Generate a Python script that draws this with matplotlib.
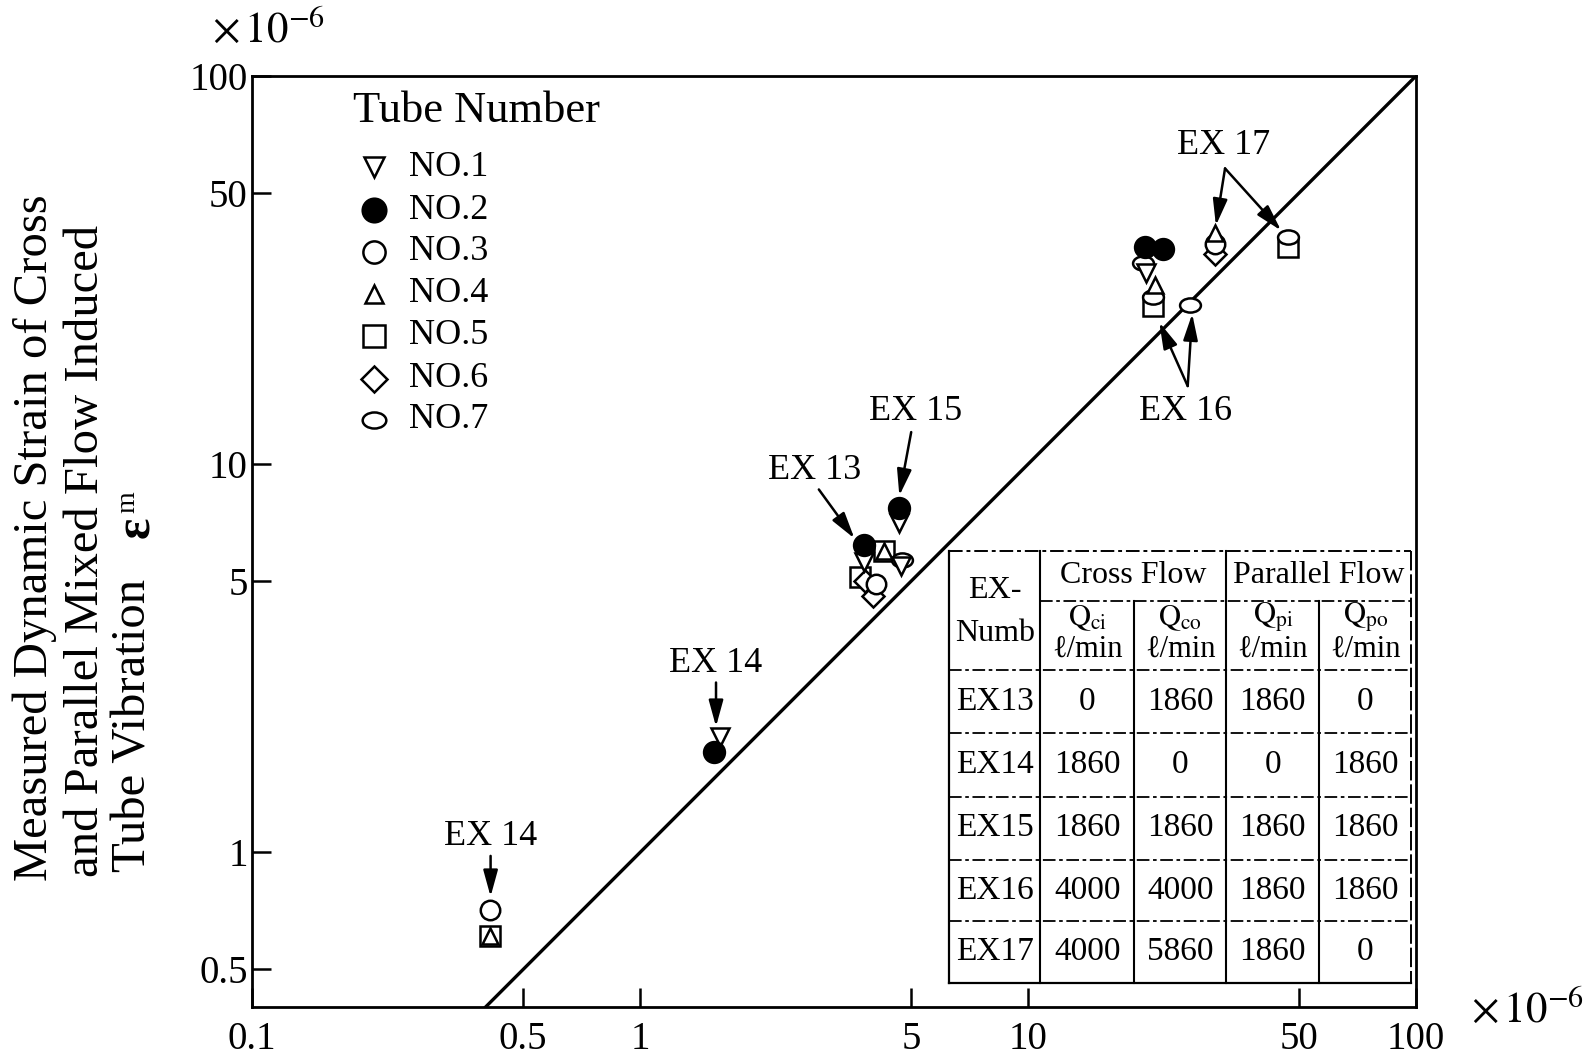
import matplotlib.pyplot as plt
from matplotlib.path import Path
from matplotlib.ticker import NullLocator

plt.rcParams['font.family'] = ['Liberation Serif', 'DejaVu Serif']
plt.rcParams['mathtext.fontset'] = 'stix'

# calculated strain (x) vs measured strain (y), both x 1e-6
tube_names = ['NO.1', 'NO.2', 'NO.3', 'NO.4', 'NO.5', 'NO.6', 'NO.7']
tube1_x = [1.61, 3.77, 4.65, 4.70, 20.2]
tube1_y = [1.98, 5.61, 7.05, 5.47, 31.0]
tube2_x = [1.55, 3.77, 4.65, 20.0, 22.3]
tube2_y = [1.82, 6.18, 7.72, 36.3, 35.9]
tube3_x = [0.41, 4.05, 30.3]
tube3_y = [0.71, 4.91, 37.0]
tube4_x = [0.41, 4.25, 21.2, 30.3]
tube4_y = [0.61, 5.96, 28.9, 39.3]
tube5_x = [0.41, 3.70, 4.25, 21.0, 46.8]
tube5_y = [0.61, 5.12, 5.96, 25.6, 36.3]
tube6_x = [3.81, 3.98, 30.3]
tube6_y = [5.00, 4.59, 34.8]
tube7_x = [4.73, 19.8, 21.0, 26.2, 46.8]
tube7_y = [5.68, 33.0, 27.0, 25.7, 38.5]

ideal = [0.4, 100]

xticks = [0.1, 0.5, 1, 5, 10, 50, 100]
xtick_labels = ['0.1', '0.5', '1', '5', '10', '50', '100']
yticks = [0.5, 1, 5, 10, 50, 100]
ytick_labels = ['0.5', '1', '5', '10', '50', '100']

# experiment labels: text position, arrow tail, arrow tips
ex_labels = ['EX 14', 'EX 14', 'EX 13', 'EX 15', 'EX 16', 'EX 17']
ex_text = [(0.412, 1.10), (1.57, 3.07), (2.82, 9.64), (5.12, 13.7), (25.5, 13.7), (32.0, 66.4)]
ex_tail = [(0.412, 0.98), (1.57, 2.74), (2.89, 8.61), (5.0, 12.1), (25.8, 15.9), (32.2, 57.8)]
ex_tips = [[(0.412, 0.77)], [(1.57, 2.11)], [(3.57, 6.44)], [(4.66, 8.30)],
           [(21.8, 23.2), (26.5, 24.4)], [(30.5, 41.2), (44.9, 40.0)]]

table_rows = [
    ['EX13', '0', '1860', '1860', '0'],
    ['EX14', '1860', '0', '0', '1860'],
    ['EX15', '1860', '1860', '1860', '1860'],
    ['EX16', '4000', '4000', '1860', '1860'],
    ['EX17', '4000', '5860', '1860', '0'],
]
q_labels = [r'$\mathrm{Q}_{\mathrm{ci}}$', r'$\mathrm{Q}_{\mathrm{co}}$',
            r'$\mathrm{Q}_{\mathrm{pi}}$', r'$\mathrm{Q}_{\mathrm{po}}$']

ellipse = Path(Path.unit_circle().vertices * [1.0, 0.68], Path.unit_circle().codes)

styles = {
    'NO.1': dict(marker='v', ms=13, mfc='white'),
    'NO.2': dict(marker='o', ms=15, mfc='black'),
    'NO.3': dict(marker='o', ms=14, mfc='white'),
    'NO.4': dict(marker='^', ms=11, mfc='white'),
    'NO.5': dict(marker='s', ms=14, mfc='white'),
    'NO.6': dict(marker='D', ms=11, mfc='white'),
    'NO.7': dict(marker=ellipse, ms=15, mfc='white'),
}
data = {
    'NO.1': (tube1_x, tube1_y), 'NO.2': (tube2_x, tube2_y),
    'NO.3': (tube3_x, tube3_y), 'NO.4': (tube4_x, tube4_y),
    'NO.5': (tube5_x, tube5_y), 'NO.6': (tube6_x, tube6_y),
    'NO.7': (tube7_x, tube7_y),
}

fig = plt.figure(figsize=(15.91, 10.61), dpi=100)
ax = fig.add_axes([0.1584, 0.0509, 0.7316, 0.8775])
ax.set_xscale('log')
ax.set_yscale('log')
ax.set_xlim(0.1, 100)
ax.set_ylim(0.4, 100)

ax.plot(ideal, ideal, color='black', lw=2.4, zorder=2)

for name in ['NO.5', 'NO.6', 'NO.3', 'NO.7', 'NO.4', 'NO.1', 'NO.2']:
    xs, ys = data[name]
    ax.plot(xs, ys, ls='none', mec='black', mew=1.8, zorder=3, **styles[name])

# annotations
for label, txy, tail, tips in zip(ex_labels, ex_text, ex_tail, ex_tips):
    ax.text(txy[0], txy[1], label, fontsize=26, ha='center', va='center', zorder=4)
    for tip in tips:
        ax.annotate('', xy=tip, xytext=tail,
                    arrowprops=dict(arrowstyle='-|>,head_length=0.8,head_width=0.22',
                                    color='black', lw=1.8, shrinkA=0, shrinkB=0,
                                    mutation_scale=20), zorder=4)

# legend block
ax.text(0.087, 0.962, 'Tube Number', transform=ax.transAxes, fontsize=32,
        ha='left', va='center')
leg_y = [0.902, 0.856, 0.811, 0.766, 0.721, 0.675, 0.631]
for name, ly in zip(tube_names, leg_y):
    st = dict(styles[name])
    st['ms'] = st['ms'] + 2
    ax.plot([0.1046], [ly], transform=ax.transAxes, ls='none', mec='black',
            mew=1.8, clip_on=False, **st)
    ax.text(0.135, ly, name, transform=ax.transAxes, fontsize=26,
            ha='left', va='center')

# table of flow rates
cols = [0.599, 0.677, 0.758, 0.837, 0.917, 0.996]
rows = [0.490, 0.436, 0.362, 0.294, 0.226, 0.158, 0.092, 0.026]
tk = dict(transform=ax.transAxes, color='black', clip_on=False, zorder=5)
dash = (0, (7, 2, 2, 2))
ax.fill_between([cols[0], cols[-1]], rows[-1], rows[0], transform=ax.transAxes,
                color='white', zorder=4.5)
ax.plot([cols[0], cols[0]], [rows[0], rows[-1]], lw=1.6, **tk)
ax.plot([cols[-1], cols[-1]], [rows[0], rows[-1]], lw=1.4, ls=(0, (10, 2)), **tk)
ax.plot([cols[0], cols[-1]], [rows[0], rows[0]], lw=1.4, ls=dash, **tk)
ax.plot([cols[0], cols[-1]], [rows[-1], rows[-1]], lw=1.6, **tk)
ax.plot([cols[1], cols[-1]], [rows[1], rows[1]], lw=1.3, ls=dash, **tk)
for r in rows[2:-1]:
    ax.plot([cols[0], cols[-1]], [r, r], lw=1.3, ls=dash, **tk)
for c in [cols[1], cols[3]]:
    ax.plot([c, c], [rows[0], rows[-1]], lw=1.5, **tk)
for c in [cols[2], cols[4]]:
    ax.plot([c, c], [rows[1], rows[-1]], lw=1.5, **tk)

tt = dict(transform=ax.transAxes, ha='center', va='center', zorder=6)
ax.text((cols[0] + cols[1]) / 2, 0.447, 'EX-', fontsize=23, **tt)
ax.text((cols[0] + cols[1]) / 2, 0.401, 'Numb', fontsize=23, **tt)
ax.text((cols[1] + cols[3]) / 2, 0.463, 'Cross Flow', fontsize=23, **tt)
ax.text((cols[3] + cols[5]) / 2, 0.463, 'Parallel Flow', fontsize=23, **tt)
for i, q in enumerate(q_labels):
    cx = (cols[i + 1] + cols[i + 2]) / 2
    ax.text(cx, 0.418, q, fontsize=22, **tt)
    ax.text(cx, 0.384, '\u2113/min', fontsize=22, **tt)
for j, row in enumerate(table_rows):
    cy = (rows[j + 2] + rows[j + 3]) / 2
    for i, val in enumerate(row):
        ax.text((cols[i] + cols[i + 1]) / 2, cy, val, fontsize=24, **tt)

# axes styling
for side in ['left', 'bottom', 'top', 'right']:
    ax.spines[side].set_linewidth(2.0)
ax.set_xticks(xticks)
ax.set_xticklabels(xtick_labels)
ax.set_yticks(yticks)
ax.set_yticklabels(ytick_labels)
ax.xaxis.set_minor_locator(NullLocator())
ax.yaxis.set_minor_locator(NullLocator())
ax.tick_params(direction='in', length=14, width=1.8, labelsize=28,
               top=False, right=False)
ax.tick_params(axis='x', pad=10)
ax.tick_params(axis='y', pad=3)

fig.text(0.169, 0.970, r'$\times\,10^{-6}$', fontsize=31, ha='center', va='center')
fig.text(0.960, 0.047, r'$\times\,10^{-6}$', fontsize=31, ha='center', va='center')

# y axis title, three rotated lines
fig.text(0.0217, 0.170, 'Measured Dynamic Strain of Cross', rotation=90,
         fontsize=35, ha='center', va='bottom')
fig.text(0.0542, 0.173, 'and Parallel Mixed Flow Induced', rotation=90,
         fontsize=35, ha='center', va='bottom')
fig.text(0.0836, 0.178, 'Tube Vibration', rotation=90,
         fontsize=35, ha='center', va='bottom')
fig.text(0.0861, 0.503, '\u03b5', rotation=90, fontsize=36, fontweight='bold',
         ha='center', va='center')
fig.text(0.0805, 0.527, 'm', rotation=90, fontsize=20, ha='center', va='center')

fig.savefig('out.png', dpi=100)
